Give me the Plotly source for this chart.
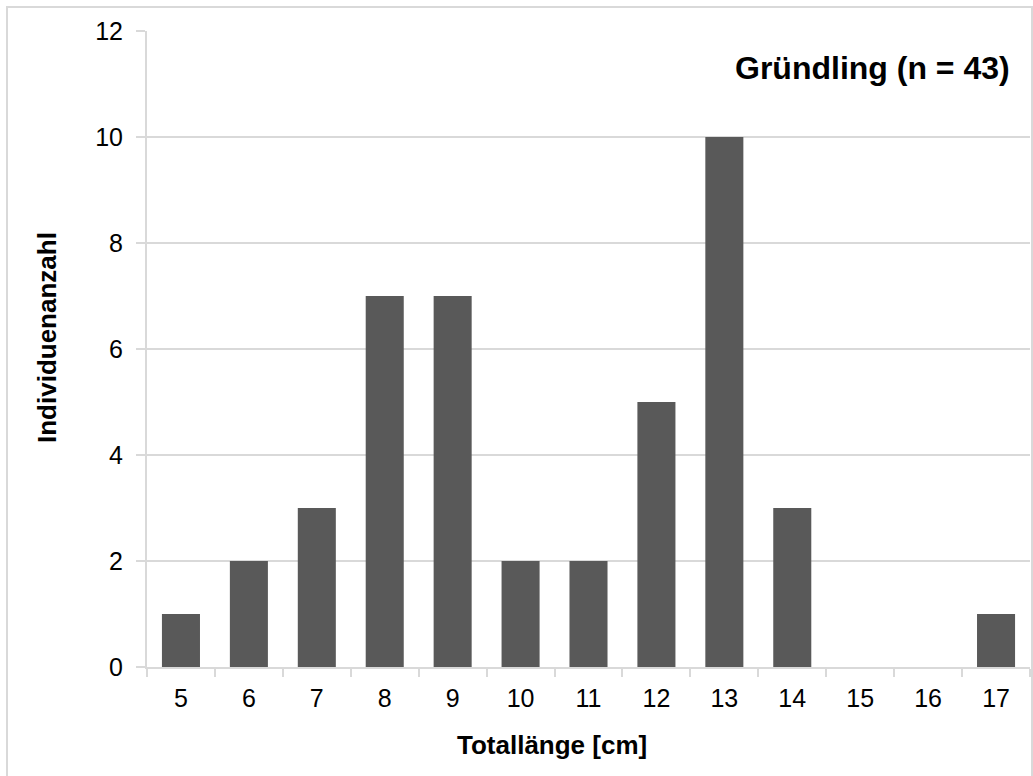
import plotly.graph_objects as go

categories = ["5", "6", "7", "8", "9", "10", "11", "12", "13", "14", "15", "16", "17"]
counts = [1, 2, 3, 7, 7, 2, 2, 5, 10, 3, 0, 0, 1]
y_ticks = [0, 2, 4, 6, 8, 10, 12]

FONT = "Liberation Sans, Arial, sans-serif"
GRID = "#d9d9d9"

fig = go.Figure(go.Bar(
    x=categories, y=counts,
    marker=dict(color="#595959", line=dict(width=0)),
))

L, R, T, B = 147, 3, 31, 109
W, H = 1033, 776
pw, ph = W - L - R, H - T - B

def px(x):
    return (x - L) / pw

def py(y):
    return (T + ph - y) / ph

fig.update_layout(
    width=W, height=H,
    margin=dict(l=L, r=R, t=T, b=B),
    paper_bgcolor="white", plot_bgcolor="white",
    bargap=0.44,
    showlegend=False,
    font=dict(family=FONT, color="#000000"),
    xaxis=dict(
        type="category",
        tickson="boundaries",
        ticks="outside", ticklen=8, tickcolor=GRID, tickwidth=2,
        showline=True, linecolor=GRID, linewidth=2,
        showgrid=False,
        tickfont=dict(size=25, family=FONT, color="#000"),
        ticklabelstandoff=8,
    ),
    yaxis=dict(
        range=[0, 12], tickvals=y_ticks,
        ticks="outside", ticklen=9, tickcolor=GRID, tickwidth=2,
        showline=True, linecolor=GRID, linewidth=2,
        showgrid=True, gridcolor=GRID, gridwidth=2,
        zeroline=False,
        tickfont=dict(size=25, family=FONT, color="#000"),
        ticklabelstandoff=8,
    ),
    annotations=[
        dict(
            text="<b>Gründling (n = 43)</b>",
            xref="paper", yref="paper", x=px(1012), y=py(68),
            xanchor="right", yanchor="middle", showarrow=False,
            font=dict(size=32, family=FONT, color="#000"),
        ),
        dict(
            text="<b>Totallänge [cm]</b>",
            xref="paper", yref="paper", x=px(552), y=py(745),
            xanchor="center", yanchor="middle", showarrow=False,
            font=dict(size=26, family=FONT, color="#000"),
        ),
        dict(
            text="<b>Individuenanzahl</b>",
            xref="paper", yref="paper", x=px(47), y=py(338),
            xanchor="center", yanchor="middle", showarrow=False, textangle=-90,
            font=dict(size=26, family=FONT, color="#000"),
        ),
    ],
    shapes=[dict(
        type="rect", xref="paper", yref="paper",
        x0=px(7), x1=px(1032),
        y0=-0.3, y1=py(7),
        line=dict(color=GRID, width=2), fillcolor="rgba(0,0,0,0)", layer="below",
    )],
)

fig.write_html("out.html")
